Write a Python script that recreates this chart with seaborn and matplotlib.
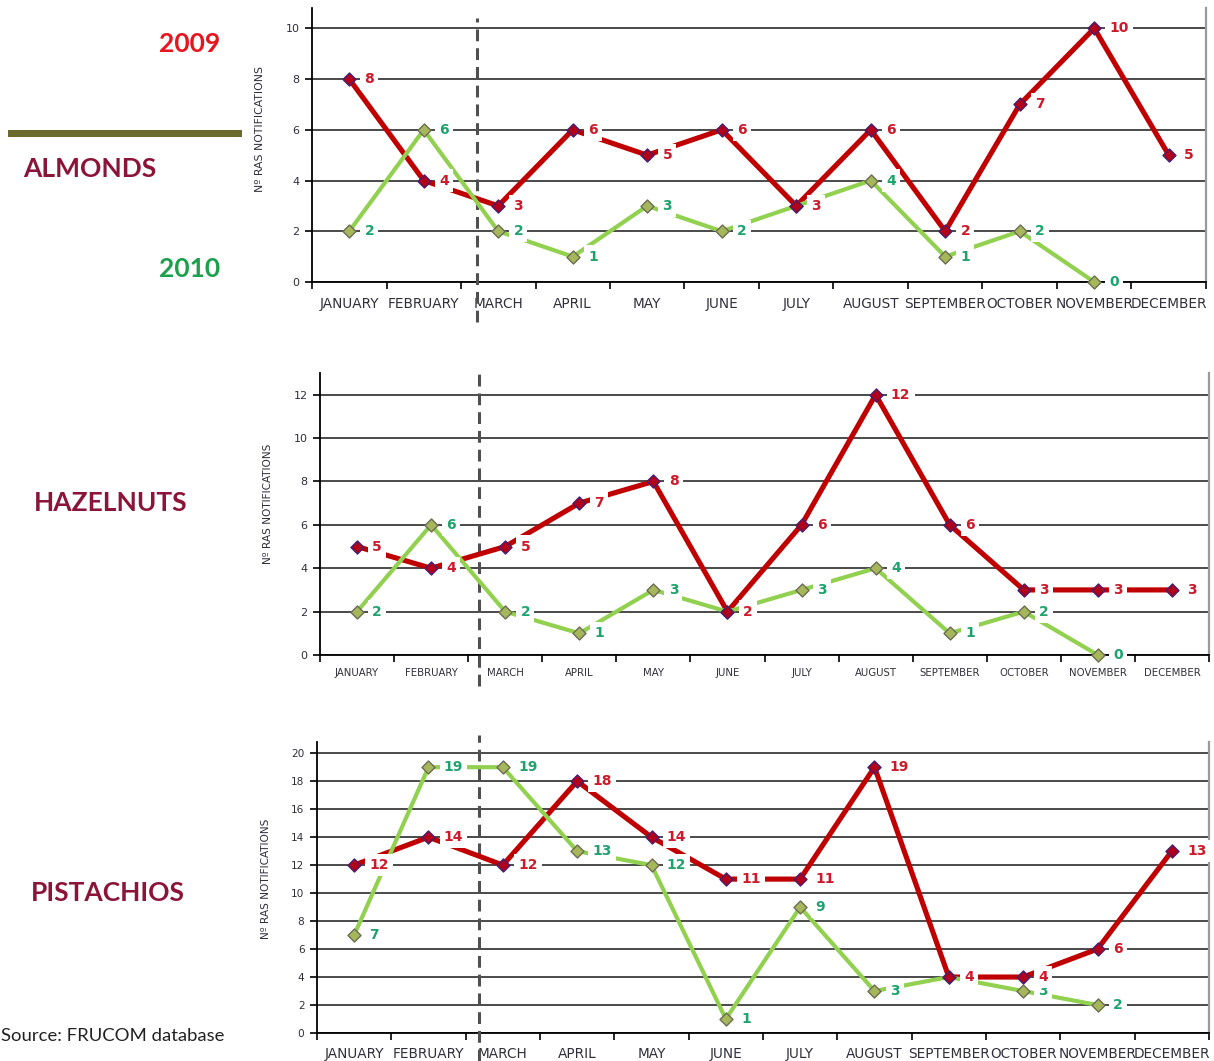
import numpy as np
import pandas as pd
import matplotlib
matplotlib.use("Agg")
import matplotlib.pyplot as plt
from matplotlib.patches import Rectangle
import seaborn as sns

# ---------------- data ----------------
months = ["JANUARY", "FEBRUARY", "MARCH", "APRIL", "MAY", "JUNE", "JULY",
          "AUGUST", "SEPTEMBER", "OCTOBER", "NOVEMBER", "DECEMBER"]

almonds_2009 = [8, 4, 3, 6, 5, 6, 3, 6, 2, 7, 10, 5]
almonds_2010 = [2, 6, 2, 1, 3, 2, 3, 4, 1, 2, 0, np.nan]

hazelnuts_2009 = [5, 4, 5, 7, 8, 2, 6, 12, 6, 3, 3, 3]
hazelnuts_2010 = [2, 6, 2, 1, 3, 2, 3, 4, 1, 2, 0, np.nan]

pistachios_2009 = [12, 14, 12, 18, 14, 11, 11, 19, 4, 4, 6, 13]
pistachios_2010 = [7, 19, 19, 13, 12, 1, 9, 3, 4, 3, 2, np.nan]

products = ["ALMONDS", "HAZELNUTS", "PISTACHIOS"]
year_labels = ["2009", "2010"]
ylabel_text = "Nº RAS NOTIFICATIONS"
source_text = "Source: FRUCOM database"

# ---------------- style ----------------
sns.set_style("white")
plt.rcParams["font.family"] = ["DejaVu Sans"]
plt.rcParams["lines.scale_dashes"] = False

W, H = 1214, 1061
fig = plt.figure(figsize=(W / 100, H / 100), dpi=100)

RED_LINE = "#c00000"
GREEN_LINE = "#92d050"
RED_TXT = "#cc1a2a"
GREEN_TXT = "#1ea36e"
TICK_TXT = "#2f2f3a"


def px_rect(l, r, top, bottom):
    return [l / W, 1 - bottom / H, (r - l) / W, (bottom - top) / H]


panels = [
    dict(y09=almonds_2009, y10=almonds_2010, rect=px_rect(312, 1206, 8, 282),
         ymax=10.8, yticks=np.arange(0, 11, 2), xfs=9.8, yfs=8.0, xpad=11,
         dash_x=1.715, dash_y=(-0.146, 0.964), ylab=(-0.053, 0.558), ylfs=7.8),
    dict(y09=hazelnuts_2009, y10=hazelnuts_2010, rect=px_rect(320, 1209, 373, 655),
         ymax=13.0, yticks=np.arange(0, 13, 2), xfs=7.3, yfs=8.0, xpad=9,
         dash_x=1.646, dash_y=(-0.11, 1.004), ylab=(-0.053, 0.535), ylfs=7.6),
    dict(y09=pistachios_2009, y10=pistachios_2010, rect=px_rect(317, 1209, 742, 1033),
         ymax=20.8, yticks=np.arange(0, 21, 2), xfs=9.8, yfs=7.6, xpad=10,
         dash_x=1.68, dash_y=(-0.096, 1.024), ylab=(-0.052, 0.529), ylfs=7.6),
]

for p in panels:
    ax = fig.add_axes(p["rect"])
    df = pd.DataFrame({"mi": np.arange(len(months)), "month": months,
                       "y2009": p["y09"], "y2010": p["y10"]})

    # lines
    sns.lineplot(data=df, x="mi", y="y2009", ax=ax, color=RED_LINE,
                 linewidth=3.7, zorder=3, legend=False)
    d10 = df.dropna(subset=["y2010"])
    sns.lineplot(data=d10, x="mi", y="y2010", ax=ax, color=GREEN_LINE,
                 linewidth=3.0, zorder=4, legend=False)
    # markers
    sns.scatterplot(data=d10, x="mi", y="y2010", ax=ax, marker="D", s=44,
                    color="#a6b65a", edgecolor="#6d6d55", linewidth=1.0,
                    zorder=5, legend=False, clip_on=False)
    sns.scatterplot(data=df, x="mi", y="y2009", ax=ax, marker="D", s=44,
                    color="#b0001c", edgecolor="#45206e", linewidth=1.0,
                    zorder=6, legend=False, clip_on=False)

    # data labels
    for col, c, z in [("y2010", GREEN_TXT, 7), ("y2009", RED_TXT, 8)]:
        for xi, v in zip(df["mi"], df[col]):
            if np.isnan(v):
                continue
            ax.annotate(f"{int(v)}", (xi, v), xytext=(11, 0),
                        textcoords="offset points", ha="left", va="center",
                        fontsize=10, fontweight="bold", color=c, zorder=z,
                        annotation_clip=False,
                        bbox=dict(boxstyle="square,pad=0.3", fc="white", ec="none"))

    # axes formatting
    ax.set_xlim(-0.5, len(months) - 0.5)
    ax.set_ylim(0, p["ymax"])
    ax.set_xticks(np.arange(len(months)))
    ax.set_xticklabels(months, fontsize=p["xfs"], color=TICK_TXT)
    ax.set_xticks(np.arange(-0.5, len(months)), minor=True)
    ax.tick_params(axis="x", which="major", length=0, pad=p["xpad"])
    ax.tick_params(axis="x", which="minor", length=5, width=1.2,
                   direction="out", color="black", bottom=True)
    ax.set_yticks(p["yticks"])
    ax.set_yticklabels([str(t) for t in p["yticks"]], fontsize=p["yfs"], color=TICK_TXT)
    ax.tick_params(axis="y", which="major", length=5, width=1.2,
                   direction="out", color="black", left=True, pad=4)
    ax.set_axisbelow(True)
    ax.yaxis.grid(True, color="#3c3c3c", linewidth=1.3)
    ax.xaxis.grid(False)
    ax.set_xlabel("")
    ax.set_ylabel(ylabel_text, fontsize=p["ylfs"], color=TICK_TXT)
    ax.yaxis.set_label_coords(*p["ylab"])

    for s in ["left", "bottom"]:
        ax.spines[s].set_color("black")
        ax.spines[s].set_linewidth(1.3)
        ax.spines[s].set_visible(True)
    ax.spines["top"].set_visible(False)
    ax.spines["right"].set_visible(True)
    ax.spines["right"].set_color("#9a9a9a")
    ax.spines["right"].set_linewidth(1.6)

    # dashed separator
    ax.axvline(p["dash_x"], ymin=p["dash_y"][0], ymax=p["dash_y"][1],
               color="#505050", linewidth=2.2, linestyle=(0, (8.5, 5.0)),
               clip_on=False, zorder=2.6)

# ---------------- left annotations ----------------
def fx(x):
    return x / W


def fy(y):
    return 1 - y / H


LEFT_FONT = ["Lato", "DejaVu Sans"]
fig.text(fx(190), fy(44), year_labels[0], color="#e8141e", fontsize=19,
         fontweight="bold", family=LEFT_FONT, ha="center", va="center")
fig.text(fx(190), fy(269), year_labels[1], color="#1ca04c", fontsize=19,
         fontweight="bold", family=LEFT_FONT, ha="center", va="center")
fig.add_artist(Rectangle((fx(8), fy(137)), fx(242) - fx(8), fy(130) - fy(137),
                         transform=fig.transFigure, color="#6b6a2e", lw=0))

for name, ycen, xcen in zip(products, [169, 503, 893], [90, 111, 108]):
    fig.text(fx(xcen), fy(ycen), name, color="#8b1538", fontsize=19,
             fontweight="bold", family=LEFT_FONT, ha="center", va="center")

fig.text(fx(1), fy(1036), source_text, color="#222222", fontsize=13.3,
         family=LEFT_FONT, ha="left", va="center")

fig.savefig("out.png", dpi=100)
